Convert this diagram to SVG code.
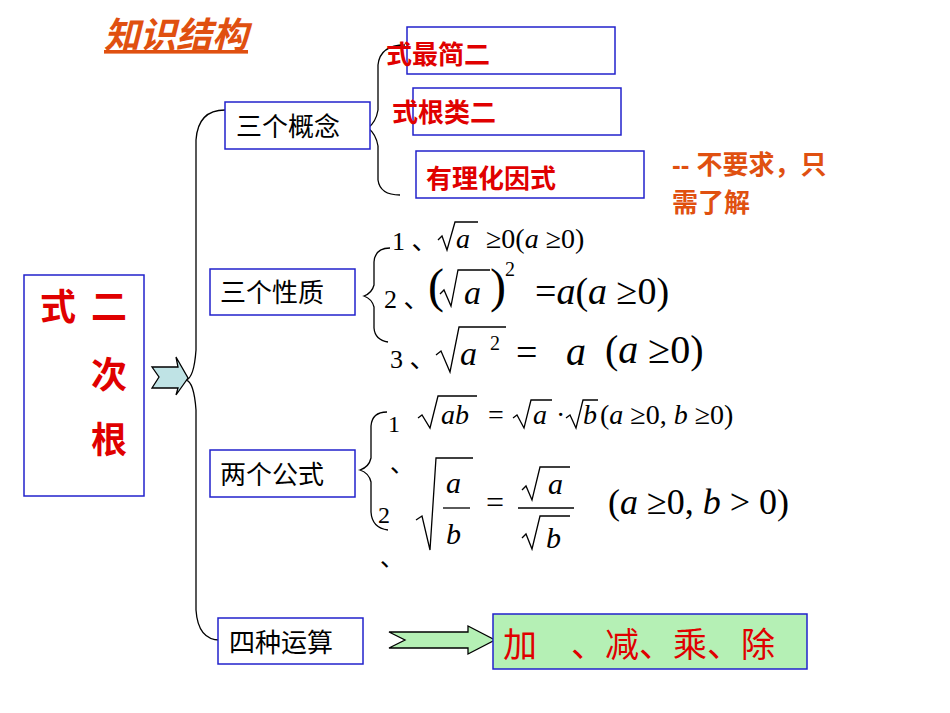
<svg xmlns="http://www.w3.org/2000/svg" width="950" height="713" viewBox="0 0 950 713">
<style>
.box{fill:#fff;stroke:#2222cc;stroke-width:1.5}
.cn{font-family:"Liberation Sans","Noto Sans CJK SC",sans-serif}
.lbl{font-size:26px;fill:#000}
.red{fill:#e00000;font-weight:bold}
.m{font-family:"Liberation Serif","Noto Sans CJK SC",serif;fill:#000}
.i{font-style:italic}
.ln{fill:none;stroke:#000;stroke-width:1.3}
</style>
<rect width="950" height="713" fill="#fff"/>
<text x="104" y="48" class="cn" font-size="36" font-style="italic" font-weight="bold" fill="#e05010" text-decoration="underline">知识结构</text>

<g id="connectors">
<path class="ln" d="M225 110 Q198 110 196 140 L196 350 Q194 378 186 380 Q194 382 196 410 L196 610 Q198 640 220 640"/>
<path class="ln" d="M405 45 Q380 45 378 65 L378 110 Q376 122 368 128 Q376 134 378 146 L378 180 Q380 195 400 195"/>
<path class="ln" d="M390 248 Q375 248 374 262 L374 285 Q372 293 364 296 Q372 299 374 307 L374 328 Q375 340 388 342"/>
<path class="ln" d="M387 412 Q372 412 371 426 L371 458 Q369 467 360 470 Q369 473 371 482 L371 512 Q372 528 388 530"/>
<path d="M152 367 L178 367 L176 357 L188 378 L176 395 L178 388 L152 388 L159 377 Z" fill="#bfe3e5" stroke="#000" stroke-width="1.3"/>
<path d="M389 632 L468 632 L468 626 L495 640 L468 654 L468 648 L389 648 L405 640 Z" fill="#b5f0b5" stroke="#000" stroke-width="1.3"/>
</g>

<g id="root"><rect class="box" x="24" y="275" width="120" height="221"/>
<text class="cn red" font-size="36" x="40" y="320">式</text><text class="cn red" font-size="36" x="91" y="320">二</text>
<text class="cn red" font-size="36" x="91" y="388">次</text><text class="cn red" font-size="36" x="91" y="453">根</text></g>

<g id="n1"><rect class="box" x="225" y="102" width="145" height="47"/><text class="cn lbl" x="236" y="136">三个概念</text></g>
<g id="n2"><rect class="box" x="210" y="269" width="145" height="46"/><text class="cn lbl" x="220" y="302">三个性质</text></g>
<g id="n3"><rect class="box" x="210" y="450" width="145" height="47"/><text class="cn lbl" x="220" y="484">两个公式</text></g>
<g id="n4"><rect class="box" x="218" y="618" width="145" height="46"/><text class="cn lbl" x="229" y="652">四种运算</text></g>

<g id="c1"><rect class="box" x="407" y="27" width="208" height="47"/>
<text class="cn red" font-size="26" x="386" y="64">式最简二</text></g>
<g id="c2"><rect class="box" x="413" y="88" width="208" height="47"/>
<text class="cn red" font-size="26" x="392" y="122">式根类二</text></g>
<g id="c3"><rect class="box" x="416" y="151" width="228" height="47"/>
<text class="cn red" font-size="26" x="426" y="188">有理化因式</text></g>
<text class="cn" font-size="26" font-weight="bold" fill="#e05010" x="672" y="174">-- 不要求，只</text>
<text class="cn" font-size="26" font-weight="bold" fill="#e05010" x="672" y="212">需了解</text>

<g id="p1"><text class="m" font-size="26" x="392" y="250">1 、</text>
<path class="ln" d="M438 240 L442 236 L447 250 L455 222 L478 222"/><text class="m i" font-size="28" x="456" y="248">a</text>
<text class="m" font-size="28" x="486" y="248">≥0(<tspan class="i">a</tspan> ≥0)</text></g>
<g id="p2"><text class="m" font-size="26" x="384" y="308">2 、</text>
<text class="m" font-size="48" x="428" y="302">(</text>
<path class="ln" d="M440 294 L444 290 L451 306 L458 270 L490 270"/><text class="m i" font-size="34" x="464" y="304">a</text>
<text class="m" font-size="48" x="490" y="302">)</text><text class="m" font-size="20" x="505" y="276">2</text>
<text class="m" font-size="38" x="535" y="304">=<tspan class="i">a</tspan>(<tspan class="i">a</tspan> ≥0)</text></g>
<g id="p3"><text class="m" font-size="26" x="390" y="368">3 、</text>
<path class="ln" d="M436 355 L441 351 L450 372 L459 327 L506 327"/><text class="m i" font-size="34" x="460" y="365">a</text>
<text class="m" font-size="20" x="490" y="350">2</text>
<text class="m" font-size="38" x="516" y="365">=</text>
<text class="m i" font-size="40" x="566" y="365">a</text>
<text class="m" font-size="40" x="605" y="363">(<tspan class="i">a</tspan> ≥0)</text></g>
<g id="f1"><text class="m" font-size="24" x="388" y="432">1</text><text class="m" font-size="24" x="390" y="472">、</text>
<path class="ln" d="M418 418 L422 415 L430 428 L438 396 L477 396"/><text class="m i" font-size="28" x="441" y="424">ab</text>
<text class="m" font-size="28" x="488" y="424">=</text>
<path class="ln" d="M513 418 L517 415 L524 428 L531 400 L552 400"/><text class="m i" font-size="28" x="533" y="424">a</text>
<text class="m" font-size="28" x="556" y="424">·</text>
<path class="ln" d="M566 418 L570 415 L576 428 L583 400 L598 400"/><text class="m i" font-size="28" x="583" y="424">b</text>
<text class="m" font-size="28" x="600" y="424">(<tspan class="i">a</tspan> ≥0, <tspan class="i">b</tspan> ≥0)</text></g>
<g id="f2"><text class="m" font-size="24" x="378" y="523">2</text><text class="m" font-size="24" x="380" y="566">、</text>
<path class="ln" d="M416 520 L422 516 L430 550 L436 458 L473 458"/>
<text class="m i" font-size="30" x="446" y="493">a</text><line class="ln" x1="443" y1="508" x2="470" y2="508"/><text class="m i" font-size="30" x="446" y="544">b</text>
<text class="m" font-size="32" x="486" y="513">=</text>
<path class="ln" d="M522 490 L526 486 L532 500 L540 467 L570 467"/><text class="m i" font-size="30" x="548" y="494">a</text>
<line class="ln" x1="518" y1="508" x2="574" y2="508"/>
<path class="ln" d="M522 538 L526 534 L532 549 L540 516 L570 516"/><text class="m i" font-size="30" x="546" y="548">b</text>
<text class="m" font-size="36" x="608" y="514">(<tspan class="i">a</tspan> ≥0, <tspan class="i">b</tspan> &gt; 0)</text></g>

<g id="ops"><rect x="493" y="614" width="314" height="55" fill="#b5f0b5" stroke="#2222cc" stroke-width="1.5"/>
<text class="cn" font-size="34" fill="#e00000" x="503" y="657">加　、减、乘、除</text></g>
</svg>
